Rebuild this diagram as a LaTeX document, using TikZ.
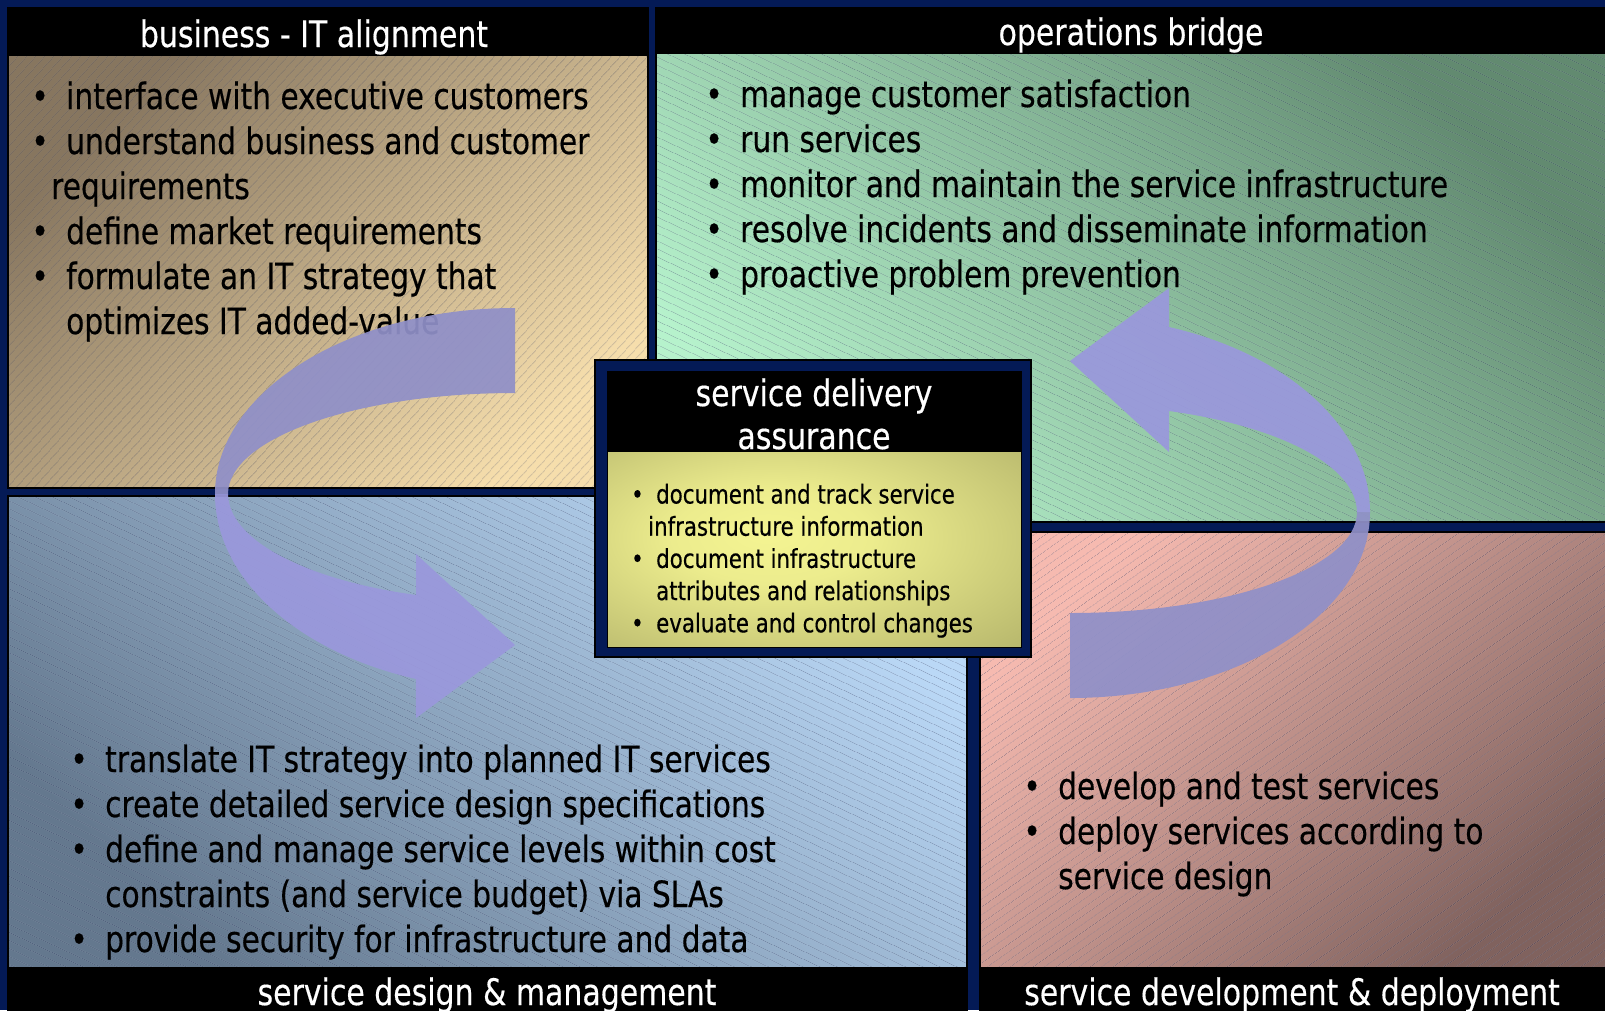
\documentclass[tikz,border=0pt]{standalone}
\usepackage{fontspec}
\newfontfamily\bodyfont[FakeStretch=0.82,FakeBold=0.4]{DejaVu Sans}
\usetikzlibrary{patterns.meta}

\definecolor{navy}{RGB}{4,26,86}
\definecolor{tandark}{RGB}{135,118,95}
\definecolor{tanlight}{RGB}{246,222,172}
\definecolor{greendark}{RGB}{98,138,112}
\definecolor{greenlight}{RGB}{182,242,204}
\definecolor{bluedark}{RGB}{100,120,142}
\definecolor{bluelight}{RGB}{186,216,246}
\definecolor{pinkdark}{RGB}{128,98,94}
\definecolor{pinklight}{RGB}{246,186,176}
\definecolor{olivedark}{RGB}{166,166,98}
\definecolor{olivelight}{RGB}{244,244,146}
\definecolor{arrowback}{RGB}{144,144,200}
\definecolor{arrowfront}{RGB}{154,152,220}
\definecolor{hatchcol}{RGB}{40,50,90}

\pgfdeclareradialshading{oliveglow}{\pgfpoint{-6bp}{4bp}}{color(0bp)=(olivelight); color(12bp)=(olivelight!90!olivedark); color(48bp)=(olivedark); color(80bp)=(olivedark)}

\tikzset{
  quadline/.style={draw=black, line width=1.5pt},
  titlebar/.style={fill=black},
  hatch/.style={pattern={Lines[angle=#1,distance=6.5pt,line width=0.8pt]}, pattern color=hatchcol, fill opacity=0.3},
  titletext/.style={text=white, inner sep=0pt, anchor=base, align=center,
    font=\bodyfont\fontsize{36.5}{43}\selectfont},
  listtext/.style={inner sep=0pt, anchor=base west, align=left,
    font=\bodyfont\fontsize{36.2}{45}\selectfont},
  smalltext/.style={inner sep=0pt, anchor=base west, align=left,
    font=\bodyfont\fontsize{26}{32.2}\selectfont}
}

\newcommand\bul{\makebox[0pt][r]{\textbullet\hspace{0.48em}}}
\newcommand\cyclearrow{%
  \fill[arrowback, fill opacity=0.93] (515,308) arc[start angle=270, end angle=180, x radius=300, y radius=186]
    -- (228,494) arc[start angle=180, end angle=270, x radius=287, y radius=101] -- cycle;
  \fill[arrowfront, fill opacity=0.93] (215,494) arc[start angle=180, end angle=109.3, x radius=300, y radius=196]
    -- (416,718) -- (515,645) -- (416,554) -- (416,595)
    arc[start angle=110.2, end angle=180, x radius=287, y radius=107.6] -- cycle;}

\begin{document}
\begin{tikzpicture}[x=1pt,y=-1pt]
\useasboundingbox (0,0) rectangle (1605,1010);
\clip (0,0) rectangle (1605,1010);
\fill[navy] (0,0) rectangle (1605,1010);

% business - IT alignment (last baseline given)
\shade[top color=tandark, bottom color=tanlight, shading angle=45] (8,56) rectangle (648,488);
\fill[hatch=48] (8,56) rectangle (648,488);
\fill[titlebar] (8,8) rectangle (648,56);
\draw[quadline] (8,8) rectangle (648,488);
\node[titletext] (bizTitle) at (314,47) {business - IT alignment};
\node[listtext] (bizList) at (66,334) {\bul interface with executive customers\\
  \bul understand business and customer\\
  \hspace*{-15pt}requirements\\
  \bul define market requirements\\
  \bul formulate an IT strategy that\\
  optimizes IT added-value};

% operations bridge
\shade[top color=greendark, bottom color=greenlight, shading angle=-45] (656,54) rectangle (1605,522);
\fill[hatch=-25] (656,54) rectangle (1605,522);
\fill[titlebar] (656,8) rectangle (1605,54);
\draw[quadline] (656,8) rectangle (1606,522);
\node[titletext] (opsTitle) at (1131,45) {operations bridge};
\node[listtext] (opsList) at (740,287) {\bul manage customer satisfaction\\
  \bul run services\\
  \bul monitor and maintain the service infrastructure\\
  \bul resolve incidents and disseminate information\\
  \bul proactive problem prevention};

% service design & management
\shade[top color=bluelight, bottom color=bluedark, shading angle=-45] (8,496) rectangle (967,967);
\fill[hatch=-25] (8,496) rectangle (967,967);
\fill[titlebar] (8,967) rectangle (967,1011);
\draw[quadline] (8,496) rectangle (967,1011);
\node[titletext] (sdmTitle) at (487,1005) {service design \& management};
\node[listtext] (sdmList) at (105,952) {\bul translate IT strategy into planned IT services\\
  \bul create detailed service design specifications\\
  \bul define and manage service levels within cost\\
  constraints (and service budget) via SLAs\\
  \bul provide security for infrastructure and data};

% service development & deployment
\shade[top color=pinklight, bottom color=pinkdark, shading angle=45] (980,532) rectangle (1605,967);
\fill[hatch=35] (980,532) rectangle (1605,967);
\fill[titlebar] (980,967) rectangle (1605,1011);
\draw[quadline] (980,532) rectangle (1606,1011);
\node[titletext] (sddTitle) at (1292,1005) {service development \& deployment};
\node[listtext] (sddList) at (1058,889) {\bul develop and test services\\
  \bul deploy services according to\\
  service design};

% service delivery assurance
\filldraw[fill=navy, draw=black, line width=1.5pt] (595,360) rectangle (1031,657);
\fill[titlebar] (607,371) rectangle (1021,452);
\shade[shading=oliveglow] (607,452) rectangle (1021,647);
\draw[black, line width=1pt] (607,371) rectangle (1021,647);
\node[titletext] (sdaTitle) at (814,449) {service delivery\\assurance};
\node[smalltext] (sdaList) at (656,632.3) {\bul document and track service\\
  \hspace*{-8pt}infrastructure information\\
  \bul document infrastructure\\
  attributes and relationships\\
  \bul evaluate and control changes};

% cycle arrows
\cyclearrow
\begin{scope}[rotate around={180:(792.5,503)}]
  \cyclearrow
\end{scope}
\end{tikzpicture}
\end{document}
